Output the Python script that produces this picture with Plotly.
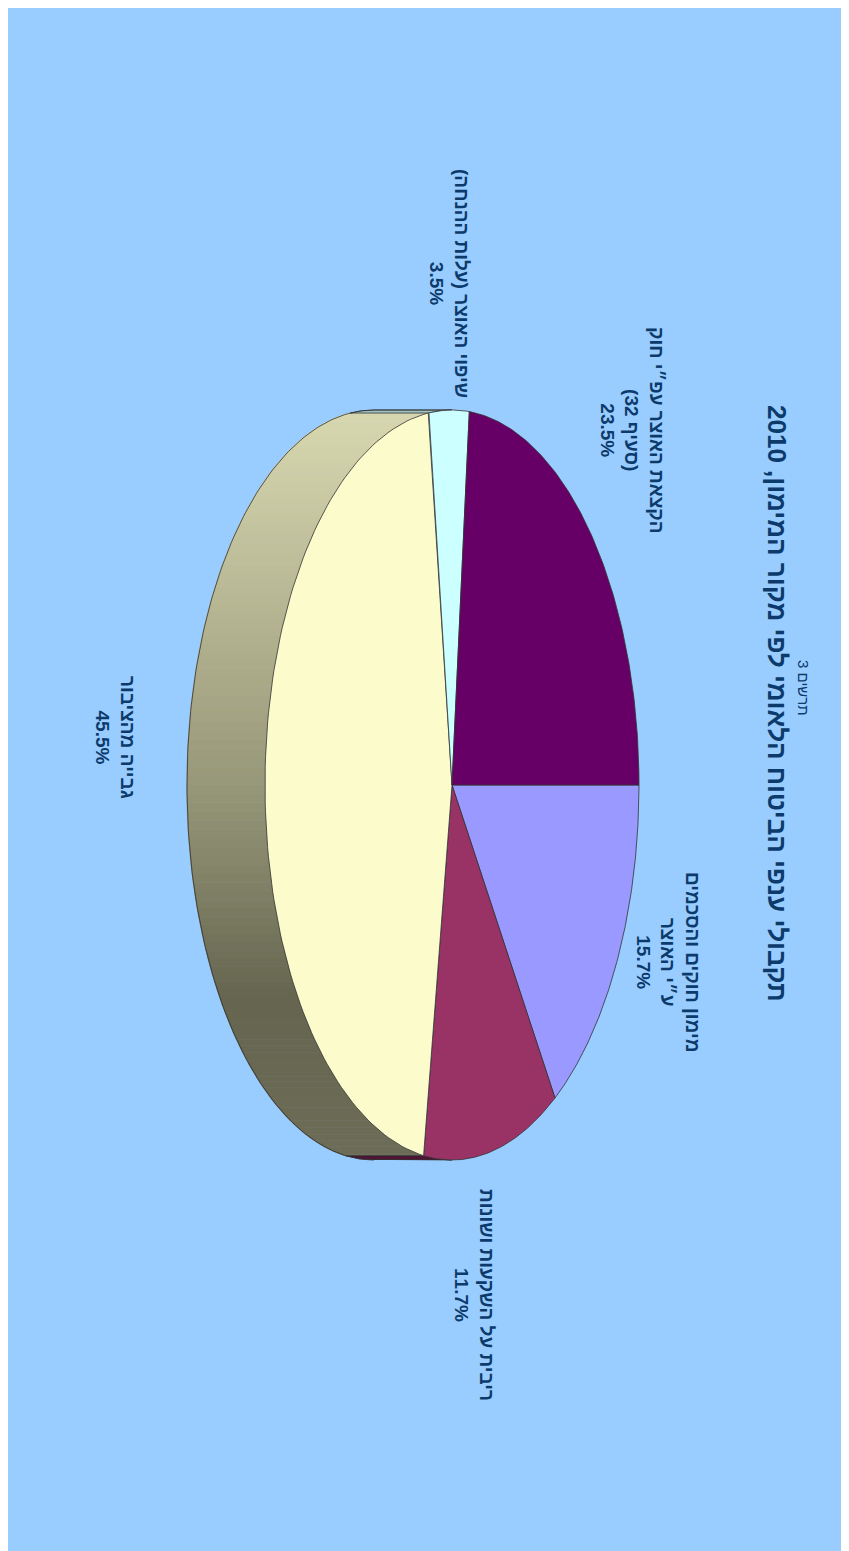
import numpy as np
import plotly.graph_objects as go

# -----------------------------
# Data
# -----------------------------
categories = [
    "מימון חוקים והסכמים<br>ע״י האוצר",
    "ריבית על השקעות ושונות",
    "גבייה מהציבור",
    "שיפוי האוצר (עלות ההנחה)",
    "הקצאת האוצר עפ״י חוק<br>(סעיף 32)",
]
values = [15.7, 11.7, 45.5, 3.5, 23.5]

title_text = "תקבולי ענפי הביטוח הלאומי לפי מקור המימון, 2010"
subtitle_text = "תרשים 3"

# -----------------------------
# Styling / geometry (screen pixel units)
# -----------------------------
W, H = 849, 1551
OFF = 8  # page body margin
BG = "#99ccff"
TEXT = "#0b3a6b"
top_colors = ["#9999ff", "#993366", "#fbfbcc", "#ccffff", "#660066"]
side_colors = [None, "#4f1433", None, "#9fc4c4", "#3a003a"]
cx, cy = 452, 785
a, b = 187, 375
depth = 78
label_pos = [(668, 962), (474, 1295), (115, 737), (449, 283), (632, 430)]

# side gradient stops for the big slice (screen y -> rgb)
grad_y = [410, 785, 1000, 1160]
grad_rgb = [(216, 216, 176), (152, 152, 122), (102, 102, 80), (110, 110, 88)]


def ell(t_deg, shift=0.0):
    t = np.deg2rad(t_deg)
    return cx + a * np.cos(t) - shift, cy + b * np.sin(t)


def side_color(y):
    r = np.interp(y, grad_y, [c[0] for c in grad_rgb])
    g = np.interp(y, grad_y, [c[1] for c in grad_rgb])
    bb = np.interp(y, grad_y, [c[2] for c in grad_rgb])
    return f"rgb({int(r)},{int(g)},{int(bb)})"


fig = go.Figure()

# slice angles
total = sum(values)
edges = np.concatenate([[0], np.cumsum(values) / total * 360])

# -----------------------------
# Side (depth) of the pie, visible for t in [90, 270]
# -----------------------------
for i in range(len(values)):
    t1, t2 = max(edges[i], 90), min(edges[i + 1], 270)
    if t2 <= t1:
        continue
    if side_colors[i] is None:
        steps = np.linspace(t1, t2, 120)
        for s0, s1 in zip(steps[:-1], steps[1:]):
            ts = np.linspace(s0, s1, 4)
            xt, yt = ell(ts)
            xb, yb = ell(ts[::-1], depth)
            ym = float(np.mean(yt))
            fig.add_trace(go.Scatter(
                x=np.concatenate([xt, xb]), y=np.concatenate([yt, yb]),
                fill="toself", fillcolor=side_color(ym),
                line=dict(width=1.2, color=side_color(ym)),
                mode="lines", hoverinfo="skip", showlegend=False))
    else:
        ts = np.linspace(t1, t2, 30)
        xt, yt = ell(ts)
        xb, yb = ell(ts[::-1], depth)
        fig.add_trace(go.Scatter(
            x=np.concatenate([xt, xb]), y=np.concatenate([yt, yb]),
            fill="toself", fillcolor=side_colors[i],
            line=dict(width=0.8, color="#333333"),
            mode="lines", hoverinfo="skip", showlegend=False))

# side outline
ts = np.linspace(90, 270, 200)
xo, yo = ell(ts, depth)
x90, y90 = ell(90)
x270, y270 = ell(270)
fig.add_trace(go.Scatter(
    x=np.concatenate([[x90], xo, [x270]]), y=np.concatenate([[y90], yo, [y270]]),
    mode="lines", line=dict(width=0.8, color="#333333"),
    hoverinfo="skip", showlegend=False))
for e in edges:
    if 90 < e < 270:
        xe0, ye0 = ell(e)
        xe1, ye1 = ell(e, depth)
        fig.add_trace(go.Scatter(
            x=[xe0, xe1], y=[ye0, ye1], mode="lines",
            line=dict(width=0.8, color="#333333"),
            hoverinfo="skip", showlegend=False))

# -----------------------------
# Top face slices
# -----------------------------
for i in range(len(values)):
    ts = np.linspace(edges[i], edges[i + 1], 120)
    xs, ys = ell(ts)
    fig.add_trace(go.Scatter(
        x=np.concatenate([[cx], xs, [cx]]), y=np.concatenate([[cy], ys, [cy]]),
        fill="toself", fillcolor=top_colors[i],
        line=dict(width=0.8, color="#333333"),
        mode="lines", hoverinfo="skip", showlegend=False))

# -----------------------------
# Labels (rotated 90 degrees)
# -----------------------------
for cat, val, (lx, ly) in zip(categories, values, label_pos):
    fig.add_annotation(
        x=lx, y=ly, text=f"<b>{cat}<br>{val:.1f}%</b>", showarrow=False,
        textangle=90, align="center",
        font=dict(family="Liberation Sans", size=19, color=TEXT))

fig.add_annotation(
    x=777, y=703, text=f"<b>{title_text}</b>", showarrow=False, textangle=90,
    font=dict(family="Liberation Sans", size=26, color=TEXT))
fig.add_annotation(
    x=804, y=688, text=subtitle_text, showarrow=False, textangle=90,
    font=dict(family="Liberation Sans", size=15, color=TEXT))

fig.update_layout(
    width=W, height=H,
    margin=dict(l=0, r=0, t=0, b=0),
    paper_bgcolor=BG, plot_bgcolor=BG,
    showlegend=False,
    xaxis=dict(range=[OFF, W + OFF], visible=False, fixedrange=True),
    yaxis=dict(range=[H + OFF, OFF], visible=False, fixedrange=True),
)

fig.write_html("out.html")
